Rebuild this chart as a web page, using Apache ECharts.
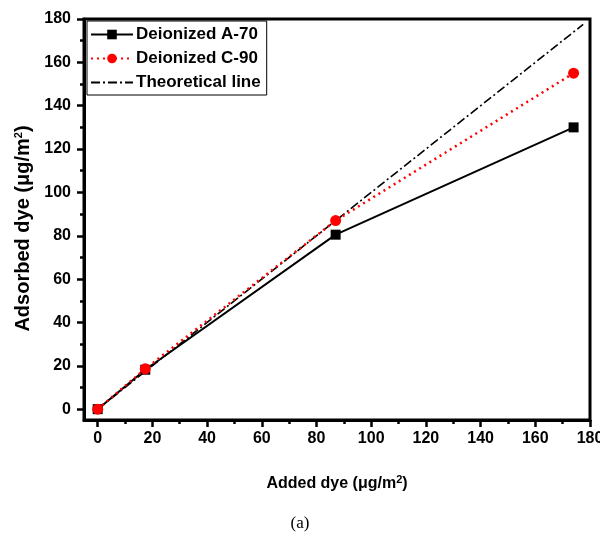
<!DOCTYPE html>
<html>
<head>
<meta charset="utf-8">
<title>Adsorbed dye vs added dye</title>
<script src="https://cdn.jsdelivr.net/npm/echarts/dist/echarts.min.js"></script>
<style>
  html, body { margin: 0; padding: 0; background: #fff; }
  #chart { width: 600px; height: 544px; }
</style>
</head>
<body>
<div id="chart"></div>
<script>
// values
const addedDye = [0, 17.4, 87, 174];
const adsorbedA70 = [0, 18.2, 80.5, 130];
const adsorbedC90 = [0, 18.6, 87, 155];
const theoryX = [0, 177.5];
const theoryY = [0, 177.5];

// tick labels
const majorTicks = [0, 20, 40, 60, 80, 100, 120, 140, 160, 180];
const minorTicks = [10, 30, 50, 70, 90, 110, 130, 150, 170];

const font = 'Liberation Sans, Arial, sans-serif';

function pairs(xs, ys) {
  return xs.map((x, i) => [x, ys[i]]);
}

function mainAxis(name, nameGap, nameSize, labelMargin, namePadding) {
  return {
    type: 'value',
    min: -5,
    max: 180,
    name: name,
    nameLocation: 'middle',
    nameGap: nameGap,
    nameTextStyle: {
      fontFamily: font,
      fontSize: nameSize,
      fontWeight: 'bold',
      color: '#000',
      padding: namePadding,
      rich: {
        sup: { fontFamily: font, fontSize: 11, fontWeight: 'bold', color: '#000', verticalAlign: 'bottom', padding: [0, 0, 9, 0] }
      }
    },
    axisLine: { show: true, onZero: false, lineStyle: { color: '#000', width: 3 } },
    axisTick: { show: false },
    axisLabel: {
      customValues: majorTicks.slice(),
      margin: labelMargin,
      fontFamily: font,
      fontSize: 16,
      fontWeight: 'bold',
      color: '#000'
    },
    splitLine: { show: false }
  };
}

// helper axes that only carry tick marks
function tickAxis(position, values, len) {
  return {
    type: 'value',
    min: -5,
    max: 180,
    position: position,
    axisLine: { show: false, onZero: false },
    axisTick: { show: true, customValues: values.slice(), length: len, lineStyle: { color: '#000', width: 2.5 } },
    axisLabel: { show: false },
    splitLine: { show: false }
  };
}

const xMain = mainAxis('Added dye (\u03bcg/m{sup|2})', 54, 16, 11, 0);
xMain.position = 'bottom';
const yMain = mainAxis('Adsorbed dye (\u03bcg/m{sup|2})', 44, 20, 13, [0, 18, 0, 0]);
yMain.position = 'left';

const chart = echarts.init(document.getElementById('chart'));

chart.setOption({
  animation: false,
  grid: {
    left: 84,
    right: 10,
    top: 19,
    bottom: 124,
    containLabel: false,
    outerBoundsMode: 'none',
    show: true,
    borderColor: '#000',
    borderWidth: 3,
    backgroundColor: '#fff'
  },
  legend: {
    orient: 'vertical',
    left: 87,
    top: 21,
    padding: [5, 6, 4, 3],
    itemGap: 7,
    itemWidth: 42,
    itemHeight: 12,
    borderColor: '#000',
    borderWidth: 1,
    backgroundColor: '#fff',
    data: [
      { name: 'Deionized A-70' },
      { name: 'Deionized C-90' },
      { name: 'Theoretical line', itemStyle: { opacity: 0 } }
    ],
    textStyle: { fontFamily: font, fontSize: 17, fontWeight: 'bold', color: '#000', padding: [0, 0, 0, -2] }
  },
  xAxis: [xMain, tickAxis('bottom', majorTicks, 7), tickAxis('bottom', minorTicks, 4)],
  yAxis: [yMain, tickAxis('left', majorTicks, 7), tickAxis('left', minorTicks, 4)],
  graphic: [
    {
      type: 'text',
      left: 'center',
      top: 515,
      style: { text: '(a)', fontFamily: 'Liberation Serif, Times New Roman, serif', fontSize: 17, fill: '#000' }
    }
  ],
  series: [
    {
      name: 'Theoretical line',
      type: 'line',
      data: pairs(theoryX, theoryY),
      symbol: 'none',
      lineStyle: { color: '#000', width: 1.6, type: [9, 3, 2, 3] },
      itemStyle: { color: '#000' },
      z: 2
    },
    {
      name: 'Deionized A-70',
      type: 'line',
      data: pairs(addedDye, adsorbedA70),
      symbol: 'rect',
      symbolSize: 10,
      lineStyle: { color: '#000', width: 2 },
      itemStyle: { color: '#000' },
      z: 3
    },
    {
      name: 'Deionized C-90',
      type: 'line',
      data: pairs(addedDye, adsorbedC90),
      symbol: 'circle',
      symbolSize: 11,
      lineStyle: { color: '#ff0000', width: 2.5, type: [2, 4] },
      itemStyle: { color: '#ff0000' },
      z: 4
    }
  ]
});
</script>
</body>
</html>
